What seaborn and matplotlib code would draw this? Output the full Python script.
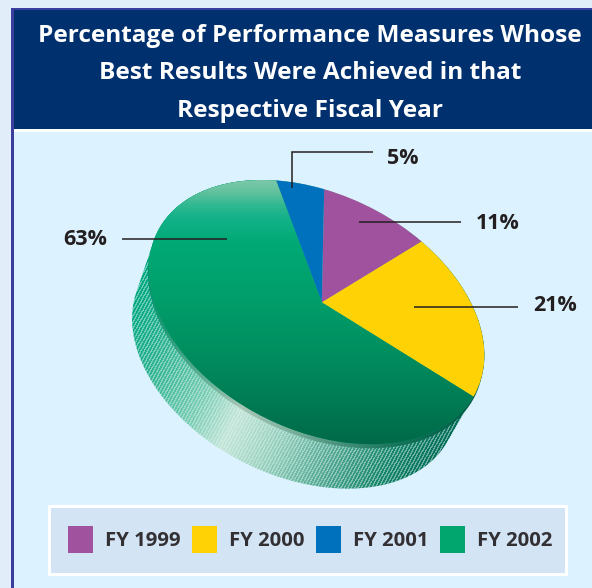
import numpy as np
import matplotlib
matplotlib.use("Agg")
import matplotlib.pyplot as plt
import matplotlib.transforms as mtransforms
from matplotlib.patches import Patch, Rectangle, Polygon
import seaborn as sns

# ---- chart content ----
years = ["FY 1999", "FY 2000", "FY 2001", "FY 2002"]
shares = [11, 21, 5, 63]
year_colors = ["#a0529e", "#ffd205", "#0071bc", "#00a66e"]
title_lines = ["Percentage of Performance Measures Whose",
               "Best Results Were Achieved in that",
               "Respective Fiscal Year"]
slice_order = [0, 1, 3, 2]   # clockwise round the pie

# ---- page layout, in pixels ----
W, H_PX = 592, 588
PAGE, EDGE, NAVY, PANEL, BOX = "#e1edf9", "#3a3f9f", "#00306e", "#dcf2fe", "#d3e4f5"
INK = "#231f20"
FONT = "Open Sans"

sns.set_theme(style="white", rc={"axes.grid": False})
plt.rcParams["font.family"] = [FONT, "DejaVu Sans"]

fig = plt.figure(figsize=(W / 100, H_PX / 100), dpi=100, facecolor=PAGE)
ax = fig.add_axes([0, 0, 1, 1])
ax.set_axis_off()


class Projection(mtransforms.Transform):
    """Perspective mapping of the flat unit pie onto the tilted top face."""
    input_dims = output_dims = 2
    is_separable = False
    has_inverse = False

    def __init__(self, matrix):
        super().__init__()
        self.matrix = matrix

    def transform_non_affine(self, values):
        values = np.asarray(values, float)
        hom = np.c_[values, np.ones(len(values))] @ self.matrix.T
        return hom[:, :2] / hom[:, 2:]


def fit_projection(src, dst):
    rows = []
    for (x, y), (u, v) in zip(src, dst):
        rows.append([x, y, 1, 0, 0, 0, -u * x, -u * y, -u])
        rows.append([0, 0, 0, x, y, 1, -v * x, -v * y, -v])
    return np.linalg.svd(np.array(rows))[2][-1].reshape(3, 3)


ordered_values = [shares[i] for i in slice_order]
ordered_colors = sns.color_palette([year_colors[i] for i in slice_order])
wedges, _ = ax.pie(ordered_values, colors=ordered_colors, startangle=90,
                   counterclock=False, radius=1, center=(0, 0),
                   wedgeprops={"linewidth": 0, "zorder": 2})

# slice boundaries on the flat pie and where they land on the tilted face,
# refined with extra points along the rim
cum = np.cumsum([0] + ordered_values[:-1]) / sum(ordered_values)
ang = np.pi / 2 - 2 * np.pi * cum
flat_pts = np.vstack([[0, 0], np.c_[np.cos(ang), np.sin(ang)]])
face_pts = np.array([(322, 303), (324, 189), (421, 241), (473, 397), (277, 181)], float)
rim_pts = np.array([(260, 180), (187, 198), (163, 223), (155, 239), (148, 270), (163, 320),
                    (198, 370), (237, 407), (270, 417), (320, 435), (387, 443),
                    (453, 423), (484, 353)], float)
matrix = fit_projection(flat_pts, face_pts)
for _ in range(8):
    inv = np.linalg.inv(matrix)
    hom = np.c_[rim_pts, np.ones(len(rim_pts))] @ inv.T
    flat_rim = hom[:, :2] / hom[:, 2:]
    flat_rim /= np.linalg.norm(flat_rim, axis=1, keepdims=True)
    matrix = fit_projection(np.vstack([flat_pts, flat_pts, flat_rim]),
                            np.vstack([face_pts, face_pts, rim_pts]))
proj = Projection(matrix)
to_page = proj + ax.transData
for w in wedges:
    w.set_transform(to_page)

# outline of the face and of the base of the extruded wall
t = np.linspace(0, 2 * np.pi, 361)
face = proj.transform(np.c_[np.cos(t), np.sin(t)])
centre = face.mean(axis=0)
base = centre + (face - centre) * 0.97 + np.array([-22, 48.5])
lip_edge = face + np.array([-1, 4])


def hull(points):
    pts = sorted(map(tuple, points))
    def half(seq):
        out = []
        for p in seq:
            while len(out) > 1 and ((out[-1][0] - out[-2][0]) * (p[1] - out[-2][1])
                                    - (out[-1][1] - out[-2][1]) * (p[0] - out[-2][0])) <= 0:
                out.pop()
            out.append(p)
        return out[:-1]
    return np.array(half(pts) + half(pts[::-1]))


# page panels
ax.add_patch(Rectangle((11, 8), W, H_PX, fc=EDGE, ec="none", zorder=0))
ax.add_patch(Rectangle((14, 10), W, 119, fc=NAVY, ec="none", zorder=0.1))
ax.add_patch(Rectangle((14, 129), W, 3, fc="white", ec="none", zorder=0.1))
ax.add_patch(Rectangle((14, 132), W, H_PX, fc=PANEL, ec="none", zorder=0.1))

# wall shading: a diagonal sheen with fine light hatching
yy, xx = np.mgrid[0:H_PX, 0:W] + 0.5
u = xx + 0.5 * yy
stops = [280, 330, 400, 445, 500, 560, 620, 680]
wall_cols = np.array([[0, 168, 125], [40, 178, 140], [120, 205, 175], [197, 230, 214],
                      [150, 208, 185], [85, 170, 145], [25, 135, 105], [0, 105, 80]], float)
shade = np.dstack([np.interp(u, stops, wall_cols[:, c]) for c in range(3)])
panel_rgb = np.array(matplotlib.colors.to_rgb(PANEL)) * 255
hatch = ((xx + 0.55 * yy) % 3.4) < 1.5
wall_img = shade.copy()
wall_img[hatch] = wall_img[hatch] * 0.55 + panel_rgb * 0.45
wall = ax.imshow(wall_img.astype(np.uint8), extent=(0, W, H_PX, 0), aspect="auto",
                 interpolation="nearest", zorder=1)
wall.set_clip_path(Polygon(hull(np.vstack([face, base])), transform=ax.transData))

lip = ax.imshow((shade * 0.86).astype(np.uint8), extent=(0, W, H_PX, 0), aspect="auto",
                interpolation="nearest", zorder=1.5)
lip.set_clip_path(Polygon(hull(np.vstack([face, lip_edge])), transform=ax.transData))

# top-to-bottom shading of the largest slice
grad_y = [178, 190, 205, 218, 245, 300, 350, 400, 447]
grad_c = np.array([[128, 202, 172], [105, 196, 162], [50, 185, 145], [20, 178, 138],
                   [0, 169, 116], [0, 158, 106], [0, 143, 96], [0, 124, 84], [0, 104, 72]], float)
rows = np.arange(H_PX) + 0.5
grad = np.stack([np.interp(rows, grad_y, grad_c[:, c]) for c in range(3)], axis=1)
grad = grad[:, None, :].astype(np.uint8)
green_wedge = wedges[slice_order.index(3)]
green = ax.imshow(grad, extent=(0, W, H_PX, 0), aspect="auto", interpolation="bilinear", zorder=2.1)
green.set_clip_path(green_wedge)

# leader lines and value labels
leader_kw = dict(color=INK, lw=1.1, zorder=3, solid_capstyle="butt", solid_joinstyle="miter")
ax.plot([292, 292, 373], [188, 152, 152], **leader_kw)
ax.plot([359, 461], [222, 222], **leader_kw)
ax.plot([414, 518], [307, 307], **leader_kw)
ax.plot([122, 227], [239, 239], **leader_kw)
label_pos = {0: (497.5, 223.5), 1: (555, 305.5), 2: (403, 158.5), 3: (85.5, 239.5)}
for i, (lx, ly) in label_pos.items():
    ax.text(lx, ly, f"{shares[i]}%", ha="center", va="center", fontsize=15.5,
            fontweight="bold", color=INK, zorder=4)

# header text
for line, base_y in zip(title_lines, [42, 79, 117]):
    ax.text(310, base_y, line, ha="center", va="baseline", color="white",
            fontsize=17.6, fontweight="bold", zorder=4)

# legend strip: a white-edged box behind a frameless legend
ax.add_patch(Rectangle((48.5, 506), 517, 67.5, fc=BOX, ec="white", lw=2.2, zorder=3.5))
handles = [Patch(facecolor=c, edgecolor="none", label=y) for y, c in zip(years, year_colors)]
leg = ax.legend(handles=handles, ncol=4, loc="center", bbox_to_anchor=(310, 539.5),
                bbox_transform=ax.transData, frameon=False,
                prop={"family": FONT, "weight": "bold", "size": 14.6},
                labelcolor="#333033", handlelength=1.24, handleheight=1.62,
                handletextpad=0.58, columnspacing=0.565, borderpad=0, borderaxespad=0)
leg.set_zorder(4)

ax.set_xlim(0, W)
ax.set_ylim(H_PX, 0)
ax.set_aspect("auto")

fig.savefig("out.png", dpi=100, facecolor=PAGE)
